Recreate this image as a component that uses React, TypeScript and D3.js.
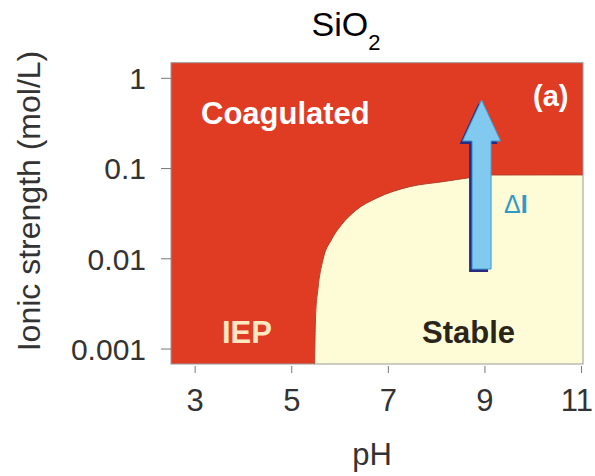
import React from "react";
import * as d3 from "d3";

const phTicks = [3, 5, 7, 9, 11];
const ionicTicks = [1, 0.1, 0.01, 0.001];
const ionicTickLabels = ["1", "0.1", "0.01", "0.001"];

// boundary between coagulated and stable regions
const boundaryPH = [5.473, 5.493, 5.541, 5.645, 5.819, 6.026, 6.337, 6.751, 7.441, 8.132, 8.685, 9.162, 11.03];
const boundaryI = [0.00068, 0.00229, 0.00459, 0.00973, 0.0162, 0.0237, 0.0348, 0.0469, 0.063, 0.0716, 0.0793, 0.0849, 0.085];

const arrowPH = 8.93;
const arrowFromI = 0.0077;
const arrowToI = 0.575;

const xDomain = [2.5, 11.03];
const yDomain = [Math.pow(10, -3.166), Math.pow(10, 0.173)];

export default function App() {
  const left = 171, right = 583, top = 62.7, bottom = 364;
  const x = d3.scaleLinear().domain(xDomain).range([left, right]);
  const y = d3.scaleLog().domain(yDomain).range([bottom, top]);

  const pts = boundaryPH.map((p, i) => ({ p, v: boundaryI[i] }));
  const area = d3
    .area<{ p: number; v: number }>()
    .x((d) => x(d.p))
    .y0(bottom)
    .y1((d) => y(d.v))
    .curve(d3.curveMonotoneX);
  const line = d3
    .line<{ p: number; v: number }>()
    .x((d) => x(d.p))
    .y((d) => y(d.v))
    .curve(d3.curveMonotoneX);

  const ax = x(arrowPH);
  const ay0 = y(arrowFromI);
  const ay1 = y(arrowToI);
  const shaftHalf = 9.5;
  const headHalf = 19;
  const headLen = 41;
  const arrowPts = [
    [ax - shaftHalf, ay0],
    [ax - shaftHalf, ay1 + headLen],
    [ax - headHalf, ay1 + headLen],
    [ax, ay1],
    [ax + headHalf, ay1 + headLen],
    [ax + shaftHalf, ay1 + headLen],
    [ax + shaftHalf, ay0],
  ];
  const arrowPath = (dx: number, dy: number) =>
    "M" + arrowPts.map(([a, b]) => `${a + dx},${b + dy}`).join("L") + "Z";

  const font = "'Liberation Sans', Arial, sans-serif";

  return (
    <svg width={595} height={476} style={{ position: "absolute", left: 0, top: 0, background: "#fff" }}>
      {/* title */}
      <text x={346} y={36} textAnchor="middle" fontFamily={font} fontSize={34} fill="#000">
        SiO
        <tspan fontSize={22} dy={14}>2</tspan>
      </text>

      {/* plot regions */}
      <rect x={left} y={top} width={right - left} height={bottom - top} fill="#e03b23" />
      <path d={area(pts) || ""} fill="#fefbd7" />
      <path d={line(pts) || ""} fill="none" stroke="#b3402a" strokeWidth={1} />
      <rect x={left} y={top} width={right - left} height={bottom - top} fill="none" stroke="#9a9a9a" strokeWidth={1} />

      {/* arrow */}
      <path d={arrowPath(-3, 3)} fill="#2a2a7e" />
      <path d={arrowPath(0, 0)} fill="#82c9f0" stroke="#3a9fd8" strokeWidth={1} />

      {/* labels inside */}
      <text x={201} y={124} fontFamily={font} fontWeight="bold" fontSize={31} fill="#ffffff">Coagulated</text>
      <text x={533} y={106} fontFamily={font} fontWeight="bold" fontSize={29} fill="#ffffff">(a)</text>
      <text x={222} y={343} fontFamily={font} fontWeight="bold" fontSize={31} fill="#fde8c2">IEP</text>
      <text x={422} y={343} fontFamily={font} fontWeight="bold" fontSize={31} fill="#2b2519">Stable</text>
      <text x={504} y={213} fontFamily={font} fontSize={25} fill="#2e9ac6">
        Δ<tspan fontWeight="bold">I</tspan>
      </text>

      {/* x axis */}
      {phTicks.map((t, i) => {
        const last = i === phTicks.length - 1;
        return (
          <g key={"x" + t}>
            <line x1={x(t)} x2={x(t)} y1={bottom + 2} y2={bottom + 9} stroke="#777" strokeWidth={1} />
            <text
              x={last ? 593 : x(t)}
              y={411}
              textAnchor={last ? "end" : "middle"}
              fontFamily={font}
              fontSize={31}
              fill="#333"
            >
              {t}
            </text>
          </g>
        );
      })}
      <text x={372} y={465} textAnchor="middle" fontFamily={font} fontSize={31} fill="#333">pH</text>

      {/* y axis */}
      {ionicTicks.map((t, i) => (
        <g key={"y" + t}>
          <line x1={left - 10} x2={left} y1={y(t)} y2={y(t)} stroke="#777" strokeWidth={1} />
          <text x={146} y={y(t)} dy="0.36em" textAnchor="end" fontFamily={font} fontSize={30} fill="#333">
            {ionicTickLabels[i]}
          </text>
        </g>
      ))}
      <text
        transform="translate(40,201) rotate(-90)"
        textAnchor="middle"
        fontFamily={font}
        fontSize={32}
        fill="#333"
      >
        Ionic strength (mol/L)
      </text>
    </svg>
  );
}
